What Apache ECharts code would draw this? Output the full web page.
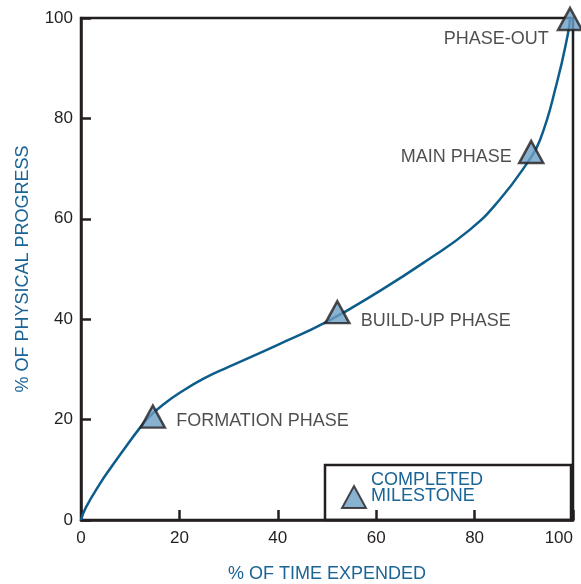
<!DOCTYPE html>
<html>
<head>
<meta charset="utf-8">
<script src="https://cdn.jsdelivr.net/npm/echarts@6/dist/echarts.min.js"></script>
<style>html,body{margin:0;padding:0;background:#fff}#c{width:581px;height:584px}</style>
</head>
<body>
<div id="c"></div>
<script>
// Curve (% time expended vs % physical progress)
var curveX = [0, 1, 3.9, 6.2, 8.6, 12, 14, 17, 20, 25, 30, 40, 50, 61, 70, 79, 85, 90.6, 93.3, 96.7, 99, 99.4];
var curveY = [0, 2.5, 7.3, 10.6, 13.9, 18.4, 20.7, 23.2, 25.3, 28.2, 30.5, 34.9, 39.5, 45.8, 51.5, 57.8, 63.7, 71, 75.7, 87, 97, 100];
// Milestones
var milestoneNames = ['FORMATION PHASE', 'BUILD-UP PHASE', 'MAIN PHASE', 'PHASE-OUT'];
var milestoneX = [14.6, 52.1, 91.5, 99.4];
var milestoneY = [20.6, 41.4, 73.3, 99.8];
var xTicks = [0, 20, 40, 60, 80, 100];
var yTicks = [0, 20, 40, 60, 80, 100];
var legendName = 'COMPLETED\nMILESTONE';

var ink = '#231f20', blue = '#1a6496', lineBlue = '#0d5d8c', fill = '#6b9dc4';
var labelCfg = [
  {position: 'right', distance: 10, offset: [0, 4]},
  {position: 'right', distance: 10, offset: [0, 9]},
  {position: 'left', distance: 6, offset: [0, 5]},
  {position: 'left', distance: 4, offset: [-4, 20]}
];
var chart = echarts.init(document.getElementById('c'), null, {renderer: 'canvas'});
chart.setOption({
  animation: false,
  textStyle: {fontFamily: 'Liberation Sans, Arial, sans-serif'},
  grid: {left: 81, right: 8, top: 18, bottom: 64, show: true, borderColor: ink, borderWidth: 2.5, backgroundColor: 'transparent', containLabel: false, outerBoundsMode: 'none'},
  xAxis: {
    type: 'value', min: 0, max: 100, interval: 20,
    name: '% OF TIME EXPENDED', nameLocation: 'middle', nameGap: 45,
    nameTextStyle: {color: blue, fontSize: 18, fontFamily: 'Liberation Sans'},
    axisLine: {show: true, lineStyle: {color: ink, width: 2.5}},
    axisTick: {show: true, inside: true, length: 10, lineStyle: {color: ink, width: 2.5}},
    axisLabel: {color: ink, fontSize: 17, margin: 10, alignMaxLabel: 'right', formatter: function(v){return xTicks.indexOf(v) >= 0 ? String(v) : '';}},
    splitLine: {show: false}
  },
  yAxis: {
    type: 'value', min: 0, max: 100, interval: 20,
    name: '% OF PHYSICAL PROGRESS', nameLocation: 'middle', nameGap: 49,
    nameTextStyle: {color: blue, fontSize: 18, fontFamily: 'Liberation Sans'},
    axisLine: {show: true, lineStyle: {color: ink, width: 2.5}},
    axisTick: {show: true, inside: true, length: 10, lineStyle: {color: ink, width: 2.5}},
    axisLabel: {color: ink, fontSize: 17, margin: 8, formatter: function(v){return yTicks.indexOf(v) >= 0 ? String(v) : '';}},
    splitLine: {show: false}
  },
  legend: {
    data: [legendName],
    left: 325, bottom: 64,
    orient: 'vertical',
    padding: [2, 88, 11, 16],
    itemWidth: 24, itemHeight: 40, itemGap: 0,
    borderColor: ink, borderWidth: 2.5,
    textStyle: {color: blue, fontSize: 18, lineHeight: 16, fontFamily: 'Liberation Sans'},
    icon: 'path://M0,0M12,18L24,40L0,40Z'
  },
  series: [
    {
      type: 'line', name: 'curve', smooth: 0.5, showSymbol: false, symbol: 'none',
      data: curveX.map(function(x, i){return [x, curveY[i]];}),
      lineStyle: {color: lineBlue, width: 2.5}, z: 2
    },
    {
      type: 'scatter', name: legendName, symbol: 'triangle', symbolSize: [24, 22],
      itemStyle: {color: fill, borderColor: ink, borderWidth: 2.5},
      data: milestoneX.map(function(x, i){
        return {value: [x, milestoneY[i]], name: milestoneNames[i],
          label: {show: true, formatter: milestoneNames[i], position: labelCfg[i].position, distance: labelCfg[i].distance, offset: labelCfg[i].offset, color: ink, fontSize: 18}};
      }),
      z: 5
    }
  ]
});
</script>
</body>
</html>
